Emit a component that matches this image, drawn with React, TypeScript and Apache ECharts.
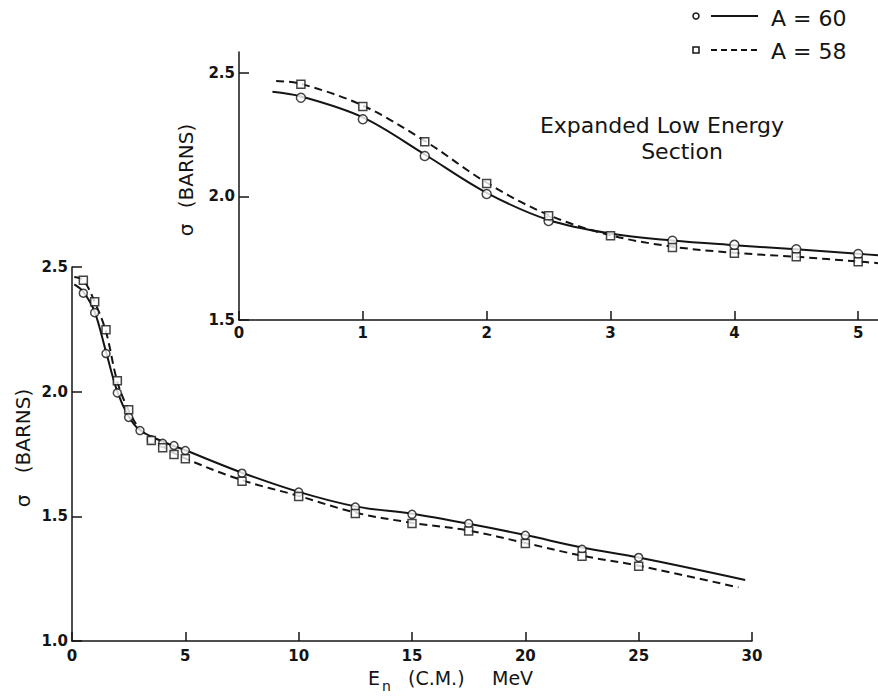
import React, { useEffect, useRef } from "react";
import * as echarts from "echarts";

// ---- Main plot data (E_n in MeV, sigma in barns) ----
const mainA60Energy = [0.5, 1, 1.5, 2, 2.5, 3, 3.5, 4, 4.5, 5, 7.5, 10, 12.5, 15, 17.5, 20, 22.5, 25];
const mainA60Sigma = [2.395, 2.317, 2.153, 1.995, 1.897, 1.844, 1.807, 1.793, 1.784, 1.764, 1.673, 1.597, 1.537, 1.508, 1.471, 1.424, 1.368, 1.335];
const mainA58Energy = [0.5, 1, 1.5, 2, 2.5, 3.5, 4, 4.5, 5, 7.5, 10, 12.5, 15, 17.5, 20, 22.5, 25];
const mainA58Sigma = [2.447, 2.361, 2.248, 2.044, 1.927, 1.804, 1.775, 1.748, 1.731, 1.641, 1.580, 1.511, 1.471, 1.441, 1.391, 1.340, 1.300];

// fitted curves (main)
const fitMainA60Energy = [0.1, 0.5, 1, 1.5, 2, 2.5, 3, 4, 5, 7.5, 10, 12.5, 15, 17.5, 20, 22.5, 25, 29.7];
const fitMainA60Sigma = [2.43, 2.40, 2.32, 2.16, 2.0, 1.90, 1.845, 1.80, 1.765, 1.675, 1.598, 1.54, 1.51, 1.47, 1.425, 1.375, 1.335, 1.245];
const fitMainA58Energy = [0.1, 0.5, 1, 1.5, 2, 2.5, 3, 4, 5, 7.5, 10, 12.5, 15, 17.5, 20, 22.5, 25, 29.4];
const fitMainA58Sigma = [2.46, 2.447, 2.36, 2.24, 2.04, 1.925, 1.85, 1.78, 1.732, 1.645, 1.582, 1.515, 1.474, 1.443, 1.393, 1.342, 1.302, 1.215];

// ---- Inset (expanded low energy section) ----
const insetA60Energy = [0.5, 1, 1.5, 2, 2.5, 3.5, 4, 4.5, 5];
const insetA60Sigma = [2.400, 2.313, 2.164, 2.010, 1.901, 1.821, 1.804, 1.786, 1.767];
const insetA58Energy = [0.5, 1, 1.5, 2, 2.5, 3, 3.5, 4, 4.5, 5];
const insetA58Sigma = [2.454, 2.364, 2.222, 2.053, 1.922, 1.841, 1.794, 1.770, 1.756, 1.736];

const fitInsetA60Energy = [0.27, 0.5, 1, 1.5, 2, 2.5, 3, 3.5, 4, 4.5, 5, 5.16];
const fitInsetA60Sigma = [2.424, 2.405, 2.32, 2.17, 2.015, 1.905, 1.85, 1.822, 1.803, 1.786, 1.768, 1.762];
const fitInsetA58Energy = [0.3, 0.5, 1, 1.5, 2, 2.5, 3, 3.5, 4, 4.5, 5, 5.16];
const fitInsetA58Sigma = [2.468, 2.456, 2.368, 2.225, 2.056, 1.925, 1.843, 1.797, 1.772, 1.756, 1.737, 1.73];

// ---- tick labels ----
const mainXTicks = [0, 5, 10, 15, 20, 25, 30];
const mainYTicks = [1.0, 1.5, 2.0, 2.5];
const insetXTicks = [0, 1, 2, 3, 4, 5];
const insetYTicks = [1.5, 2.0, 2.5];

const INK = "#141414";
const FONT = "'DejaVu Sans', sans-serif";

const zip = (xs: number[], ys: number[]) => xs.map((x, i) => [x, ys[i]]);

export default function App() {
  const ref = useRef<HTMLDivElement>(null);

  useEffect(() => {
    if (!ref.current) return;
    const chart = echarts.init(ref.current, undefined, { renderer: "svg" });

    const axisLabelStyle = {
      color: INK,
      fontFamily: FONT,
      fontSize: 15,
      fontWeight: "bold" as const,
    };
    const axisLineStyle = { show: true, lineStyle: { color: INK, width: 1.5 } };

    const solid = { color: INK, width: 2, type: "solid" as const };
    const dashed = { color: INK, width: 2, type: [8, 5] as any };

    const markStyle = { color: "#fff", borderColor: INK, borderWidth: 1.5 };

    const option: any = {
      animation: false,
      backgroundColor: "#fff",
      grid: [
        { left: 72, top: 267, width: 680, height: 374, containLabel: false },
        { left: 239, top: 52, right: 0, height: 268, containLabel: false },
      ],
      xAxis: [
        {
          gridIndex: 0,
          type: "value",
          min: 0,
          max: 30,
          interval: 5,
          splitLine: { show: false },
          axisLine: axisLineStyle,
          axisTick: { show: true, inside: true, length: 9, lineStyle: { color: INK, width: 1.5 }, customValues: mainXTicks },
          axisLabel: { ...axisLabelStyle, margin: 7, customValues: mainXTicks },
        },
        {
          gridIndex: 1,
          type: "value",
          min: 0,
          max: 5.16,
          interval: 1,
          splitLine: { show: false },
          axisLine: axisLineStyle,
          axisTick: { show: true, inside: true, length: 9, lineStyle: { color: INK, width: 1.5 }, customValues: insetXTicks },
          axisLabel: {
            ...axisLabelStyle,
            margin: 5,
            customValues: insetXTicks,
            formatter: (v: number) => String(Math.round(v)),
          },
        },
      ],
      yAxis: [
        {
          gridIndex: 0,
          type: "value",
          min: 1.0,
          max: 2.5,
          interval: 0.5,
          splitLine: { show: false },
          axisLine: axisLineStyle,
          axisTick: { show: true, inside: true, length: 10, lineStyle: { color: INK, width: 1.5 }, customValues: mainYTicks },
          axisLabel: {
            ...axisLabelStyle,
            margin: 4,
            customValues: mainYTicks,
            formatter: (v: number) => v.toFixed(1),
          },
        },
        {
          gridIndex: 1,
          type: "value",
          min: 1.5,
          max: 2.585,
          interval: 0.5,
          splitLine: { show: false },
          axisLine: axisLineStyle,
          axisTick: { show: true, inside: true, length: 10, lineStyle: { color: INK, width: 1.5 }, customValues: insetYTicks },
          axisLabel: {
            ...axisLabelStyle,
            margin: 4,
            customValues: insetYTicks,
            formatter: (v: number) => v.toFixed(1),
          },
        },
      ],
      series: [
        // main curves
        {
          type: "line", xAxisIndex: 0, yAxisIndex: 0, smooth: 0.35, showSymbol: false, symbol: "none",
          data: zip(fitMainA60Energy, fitMainA60Sigma), lineStyle: solid, z: 2,
        },
        {
          type: "line", xAxisIndex: 0, yAxisIndex: 0, smooth: 0.35, showSymbol: false, symbol: "none",
          data: zip(fitMainA58Energy, fitMainA58Sigma), lineStyle: dashed, z: 2,
        },
        {
          type: "scatter", xAxisIndex: 0, yAxisIndex: 0, symbol: "circle", symbolSize: 8,
          data: zip(mainA60Energy, mainA60Sigma), itemStyle: markStyle, z: 3,
        },
        {
          type: "scatter", xAxisIndex: 0, yAxisIndex: 0, symbol: "rect", symbolSize: 8,
          data: zip(mainA58Energy, mainA58Sigma), itemStyle: markStyle, z: 3,
        },
        // inset curves
        {
          type: "line", xAxisIndex: 1, yAxisIndex: 1, smooth: 0.35, showSymbol: false, symbol: "none",
          data: zip(fitInsetA60Energy, fitInsetA60Sigma), lineStyle: solid, z: 2,
        },
        {
          type: "line", xAxisIndex: 1, yAxisIndex: 1, smooth: 0.35, showSymbol: false, symbol: "none",
          data: zip(fitInsetA58Energy, fitInsetA58Sigma), lineStyle: dashed, z: 2,
        },
        {
          type: "scatter", xAxisIndex: 1, yAxisIndex: 1, symbol: "circle", symbolSize: 9,
          data: zip(insetA60Energy, insetA60Sigma), itemStyle: markStyle, z: 3,
        },
        {
          type: "scatter", xAxisIndex: 1, yAxisIndex: 1, symbol: "rect", symbolSize: 8,
          data: zip(insetA58Energy, insetA58Sigma), itemStyle: markStyle, z: 3,
        },
      ],
      graphic: [
        // y-axis titles (main)
        {
          type: "text", x: 23, y: 431, rotation: Math.PI / 2,
          style: { text: "(BARNS)", fill: INK, font: `20px ${FONT}`, align: "center", verticalAlign: "middle" },
        },
        {
          type: "text", x: 23, y: 501, rotation: Math.PI / 2,
          style: { text: "σ", fill: INK, font: `20px ${FONT}`, align: "center", verticalAlign: "middle" },
        },
        // y-axis titles (inset)
        {
          type: "text", x: 186, y: 166, rotation: Math.PI / 2,
          style: { text: "(BARNS)", fill: INK, font: `20px ${FONT}`, align: "center", verticalAlign: "middle" },
        },
        {
          type: "text", x: 186, y: 230, rotation: Math.PI / 2,
          style: { text: "σ", fill: INK, font: `20px ${FONT}`, align: "center", verticalAlign: "middle" },
        },
        // x-axis title
        {
          type: "text", x: 368, y: 678,
          style: { text: "E", fill: INK, font: `19px ${FONT}`, align: "left", verticalAlign: "middle" },
        },
        {
          type: "text", x: 382, y: 686,
          style: { text: "n", fill: INK, font: `14px ${FONT}`, align: "left", verticalAlign: "middle" },
        },
        {
          type: "text", x: 408, y: 678,
          style: { text: "(C.M.)", fill: INK, font: `19px ${FONT}`, align: "left", verticalAlign: "middle" },
        },
        {
          type: "text", x: 492, y: 678,
          style: { text: "MeV", fill: INK, font: `19px ${FONT}`, align: "left", verticalAlign: "middle" },
        },
        // inset caption
        {
          type: "text", x: 662, y: 125,
          style: { text: "Expanded Low Energy", fill: INK, font: `22px ${FONT}`, align: "center", verticalAlign: "middle" },
        },
        {
          type: "text", x: 682, y: 151,
          style: { text: "Section", fill: INK, font: `22px ${FONT}`, align: "center", verticalAlign: "middle" },
        },
        // legend
        {
          type: "circle", shape: { cx: 696, cy: 16, r: 3 },
          style: { fill: "#fff", stroke: INK, lineWidth: 1.5 },
        },
        {
          type: "line", shape: { x1: 711, y1: 16, x2: 758, y2: 16 },
          style: { stroke: INK, lineWidth: 2 },
        },
        {
          type: "text", x: 771, y: 18,
          style: { text: "A = 60", fill: INK, font: `22px ${FONT}`, align: "left", verticalAlign: "middle" },
        },
        {
          type: "rect", shape: { x: 693, y: 47, width: 6, height: 6 },
          style: { fill: "#fff", stroke: INK, lineWidth: 1.5 },
        },
        {
          type: "line", shape: { x1: 711, y1: 50, x2: 758, y2: 50 },
          style: { stroke: INK, lineWidth: 2, lineDash: [6, 4] },
        },
        {
          type: "text", x: 771, y: 51,
          style: { text: "A = 58", fill: INK, font: `22px ${FONT}`, align: "left", verticalAlign: "middle" },
        },
      ],
    };

    chart.setOption(option);
    return () => chart.dispose();
  }, []);

  return (
    <div
      ref={ref}
      style={{ position: "absolute", left: 0, top: 0, width: 878, height: 696, background: "#fff" }}
    />
  );
}
